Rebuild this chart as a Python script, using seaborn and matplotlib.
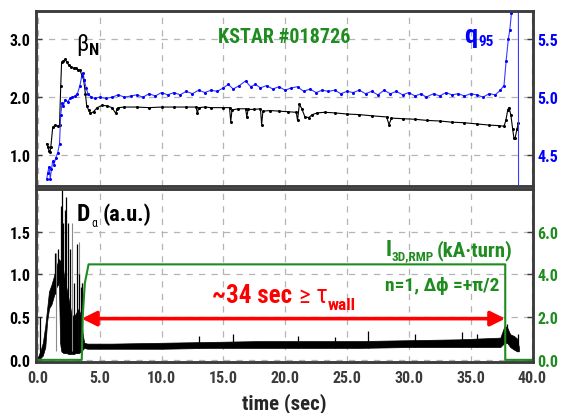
import numpy as np
import matplotlib
matplotlib.use("Agg")
import matplotlib.pyplot as plt
import seaborn as sns

# ---------------- data ----------------
# beta_N (top panel, left axis)
beta_t = [0.72, 0.8, 0.9, 0.97, 1.05, 1.2, 1.4, 1.6, 1.75, 1.85,
          1.92, 2.05, 2.2, 2.35, 2.5, 2.7, 2.9, 3.1, 3.25, 3.4,
          3.55, 3.7, 3.85, 3.95, 4.1, 4.25, 4.5, 4.8, 5.2, 5.6,
          6.0, 6.3, 6.4, 6.5, 7, 8, 9, 10, 11, 12,
          12.8, 12.9, 13.0, 13.5, 14, 15, 15.5, 15.6, 15.7, 16.2,
          16.8, 16.9, 17.0, 17.5, 18.0, 18.1, 18.2, 18.8, 19.5, 20.2,
          20.9, 21.0, 21.15, 21.35, 21.6, 21.9, 22.2, 22.6, 23.2, 24,
          25, 26, 27, 28.2, 28.4, 28.6, 29.5, 30.5, 31.5, 32.5,
          33.5, 34.5, 35.5, 36.5, 37.3, 37.7, 37.85, 38.0, 38.1, 38.25,
          38.4, 38.5, 38.6, 38.75, 38.85]
beta_v = [1.2, 1.15, 1.08, 1.05, 1.15, 1.48, 1.52, 1.5, 1.52, 2.2,
          2.6, 2.62, 2.65, 2.6, 2.55, 2.52, 2.5, 2.5, 2.47, 2.47,
          2.38, 2.3, 2.05, 1.85, 1.78, 1.72, 1.75, 1.82, 1.86, 1.85,
          1.82, 1.72, 1.8, 1.82, 1.83, 1.83, 1.82, 1.83, 1.83, 1.83,
          1.83, 1.72, 1.82, 1.83, 1.82, 1.82, 1.82, 1.58, 1.78, 1.8,
          1.8, 1.66, 1.79, 1.79, 1.8, 1.53, 1.76, 1.77, 1.76, 1.75,
          1.74, 1.6, 1.88, 1.8, 1.66, 1.65, 1.7, 1.73, 1.74, 1.73,
          1.71, 1.7, 1.68, 1.66, 1.53, 1.64, 1.63, 1.62, 1.6, 1.59,
          1.57, 1.56, 1.54, 1.52, 1.51, 1.5, 1.6, 1.78, 1.82, 1.7,
          1.45, 1.3, 1.3, 1.45, 1.55]

# q95 (top panel, right axis)
q95_t = [0.72, 0.8, 0.9, 1.0, 1.1, 1.2, 1.3, 1.45, 1.6, 1.75,
         1.85, 1.95, 2.05, 2.2, 2.4, 2.6, 2.8, 3.0, 3.2, 3.4,
         3.55, 3.65, 3.75, 3.9, 4.05, 4.3, 4.6, 5.0, 5.5, 6,
         6.5, 7, 7.5, 8, 8.5, 9, 9.5, 10, 10.5, 11,
         11.5, 12, 12.5, 13, 13.5, 14, 14.5, 15, 15.4, 15.8,
         16.3, 16.8, 17.2, 17.6, 18, 18.5, 19, 19.5, 20, 20.5,
         21, 21.5, 22, 22.5, 23, 23.5, 24, 24.5, 25, 25.5,
         26, 26.5, 27, 27.5, 28, 28.5, 29, 29.5, 30, 30.5,
         31, 31.4, 32, 32.5, 33, 33.5, 34, 34.5, 35, 35.5,
         36, 36.5, 37, 37.4, 37.7, 37.87, 38.05, 38.17, 38.3, 38.45,
         38.6, 38.86, 38.88]
q95_v = [4.3, 4.35, 4.4, 4.3, 4.38, 4.45, 4.42, 4.48, 4.52, 4.6,
         4.85, 4.95, 4.92, 4.98, 4.96, 4.99, 5.0, 5.01, 5.03, 5.1,
         5.18, 5.21, 5.15, 5.08, 5.03, 5.0, 4.99, 5.0, 4.99, 5.0,
         5.02, 5.0, 5.01, 5.02, 5.0, 5.03, 5.01, 5.04, 5.02, 5.04,
         5.02, 5.05, 5.03, 5.06, 5.04, 5.06, 5.05, 5.08, 5.11, 5.07,
         5.1, 5.14, 5.09, 5.11, 5.08, 5.1, 5.07, 5.09, 5.06, 5.08,
         5.09, 5.05, 5.07, 5.04, 5.06, 5.05, 5.06, 5.03, 5.05, 5.04,
         5.06, 5.03, 5.05, 5.02, 5.06, 5.03, 5.05, 5.02, 5.04, 5.01,
         5.03, 5.0, 5.03, 5.01, 5.04, 5.02, 5.03, 5.01, 5.03, 5.02,
         5.0, 5.03, 5.02, 5.06, 5.1, 5.31, 5.5, 5.58, 5.72, 6.0,
         6.5, 6.5, 3.5]

# D_alpha (bottom panel, left axis): noisy band envelope + spikes
dal_t = [0.0, 0.2, 0.4, 0.6, 0.75, 0.9, 1.1, 1.3, 1.5, 1.7,
         1.8, 1.9, 2.1, 2.3, 2.5, 2.7, 2.9, 3.1, 3.3, 3.5,
         3.62, 3.75, 4.0, 6, 10, 14, 18, 22, 26, 30,
         34, 37.4, 37.75, 37.95, 38.2, 38.5, 38.75, 38.9]
dal_lo = [0.0, 0.02, 0.05, 0.15, 0.45, 0.6, 0.65, 0.75, 0.85, 0.9,
          0.2, 0.1, 0.08, 0.08, 0.07, 0.07, 0.07, 0.08, 0.08, 0.1,
          0.12, 0.14, 0.13, 0.13, 0.13, 0.14, 0.14, 0.14, 0.14, 0.15,
          0.15, 0.15, 0.2, 0.2, 0.15, 0.12, 0.1, 0.1]
dal_hi = [0.03, 0.1, 0.2, 0.4, 0.6, 0.8, 0.88, 0.98, 1.1, 1.18,
          1.15, 1.2, 1.0, 0.85, 0.7, 0.55, 0.5, 0.55, 0.6, 0.5,
          0.3, 0.2, 0.19, 0.19, 0.2, 0.21, 0.22, 0.22, 0.22, 0.23,
          0.24, 0.26, 0.4, 0.38, 0.3, 0.28, 0.25, 0.15]
spike_t = [0.15, 1.35, 1.6, 1.85, 1.98, 2.05, 2.2, 2.3, 2.45, 2.6,
           2.9, 3.15, 3.3, 3.45, 3.55, 13.0, 15.8, 21.0, 24.0, 26.7,
           30.5, 34.3, 35.5, 37.95, 38.8]
spike_v = [0.5, 1.25, 1.3, 1.8, 2.05, 1.6, 1.75, 1.9, 1.6, 1.3,
           0.9, 1.35, 1.0, 0.85, 0.9, 0.28, 0.3, 0.28, 0.27, 0.34,
           0.3, 0.33, 0.3, 0.42, 0.3]
gspike_t = [1.45, 2.75, 3.3, 3.6]
gspike_v = [1.25, 1.6, 1.38, 0.9]

# I_3D,RMP coil current (bottom panel, right axis)
rmp_t = [0.0, 3.55, 3.62, 3.8, 4.1, 37.8, 37.8, 40.0]
rmp_v = [0.0, 0.0, 2.0, 3.6, 4.47, 4.47, 0.0, 0.0]

# arrow span (sec)
arrow_t = [3.55, 37.8]

xticks = [0, 5, 10, 15, 20, 25, 30, 35, 40]
xtick_labels = ["0.0", "5.0", "10.0", "15.0", "20.0", "25.0", "30.0", "35.0", "40.0"]
top_l_ticks = [1.0, 2.0, 3.0]
top_l_labels = ["1.0", "2.0", "3.0"]
top_r_ticks = [4.5, 5.0, 5.5]
top_r_labels = ["4.5", "5.0", "5.5"]
bot_l_ticks = [0.0, 0.5, 1.0, 1.5]
bot_l_labels = ["0.0", "0.5", "1.0", "1.5"]
bot_r_ticks = [0.0, 2.0, 4.0, 6.0]
bot_r_labels = ["0.0", "2.0", "4.0", "6.0"]

assert len(beta_t) == len(beta_v)
assert len(q95_t) == len(q95_v)
assert len(dal_t) == len(dal_lo) == len(dal_hi)
assert len(spike_t) == len(spike_v)

# ---------------- style ----------------
sns.set_style("white")
FAM = ["Roboto Condensed", "DejaVu Sans"]
plt.rcParams["font.family"] = FAM
plt.rcParams["font.weight"] = "bold"

BLUE = "#0000ff"
BLUE_L = "#3a3aff"
GREEN = "#1e8c1e"
RED = "#ff0000"
FRAME = "#3c3c3c"
GRID = "#b4b4b4"

fig = plt.figure(figsize=(5.61, 4.14), dpi=100)
ax1 = fig.add_axes([0.0642, 0.548, 0.886, 0.4227])
ax2 = fig.add_axes([0.0642, 0.1232, 0.886, 0.418])
ax1r = ax1.twinx()
ax2r = ax2.twinx()

XL = (-0.15, 40.05)

# ---------------- top panel ----------------
sns.lineplot(x=beta_t, y=beta_v, ax=ax1, color="black", lw=0.8, marker="o",
             markersize=2.2, markeredgewidth=0, estimator=None, sort=False,
             legend=False)
sns.lineplot(x=q95_t, y=q95_v, ax=ax1r, color=BLUE_L, lw=0.8, marker="o",
             markersize=2.2, markeredgewidth=0, markerfacecolor=BLUE,
             estimator=None, sort=False, legend=False)
ax1.set_xlim(*XL)
ax1.set_ylim(0.47, 3.48)
ax1r.set_ylim(4.235, 5.74)

# ---------------- bottom panel ----------------
ax2.fill_between(dal_t, dal_lo, dal_hi, color="black", lw=0.5)
ax2.vlines(gspike_t, 0.1, gspike_v, color="#8a8a8a", lw=0.8)
ax2.vlines(spike_t, [np.interp(s, dal_t, dal_lo) for s in spike_t], spike_v,
           color="black", lw=0.9)
sns.lineplot(x=rmp_t, y=rmp_v, ax=ax2r, color=GREEN, lw=1.5,
             estimator=None, sort=False, legend=False)
ax2.set_xlim(*XL)
ax2.set_ylim(-0.025, 2.0)
ax2r.set_ylim(-0.1, 8.0)

# ---------------- axes cosmetics ----------------
for ax in (ax1, ax2):
    ax.set_xticks(xticks)
    ax.grid(True, ls=(0, (5, 5)), color=GRID, lw=0.9)
    ax.set_axisbelow(True)
ax1.set_xticklabels([])
ax2.set_xticklabels(xtick_labels)

ax1.set_yticks(top_l_ticks, top_l_labels)
ax1r.set_yticks(top_r_ticks, top_r_labels)
ax2.set_yticks(bot_l_ticks, bot_l_labels)
ax2r.set_yticks(bot_r_ticks, bot_r_labels)

for ax in (ax1, ax2, ax1r, ax2r):
    for sp in ax.spines.values():
        sp.set_color(FRAME)
        sp.set_linewidth(1.8)
    ax.tick_params(direction="in", length=4, width=1, colors=FRAME,
                   labelsize=11.5, pad=4)
ax2.tick_params(axis="x", pad=6)
ax1.tick_params(axis="y", labelcolor="black")
ax2.tick_params(axis="y", labelcolor="black")
ax1r.tick_params(axis="y", labelcolor=BLUE, pad=3)
ax2r.tick_params(axis="y", labelcolor=GREEN, pad=3)
for lab in (ax1.get_yticklabels() + ax1r.get_yticklabels() + ax2.get_xticklabels()
            + ax2.get_yticklabels() + ax2r.get_yticklabels()):
    lab.set_fontweight("bold")

ax2.set_xlabel("time (sec)", fontsize=15, fontweight="bold", labelpad=5)
for ax in (ax1, ax2, ax1r, ax2r):
    ax.set_ylabel("")


def follow(ax, prev, s, dx=0.5, dy=0.0, ybase=None, **kw):
    """Place text s right after text artist prev (offset in points)."""
    yref = prev if ybase is None else ybase
    return ax.annotate(s, xy=(1.0, 0.0), xycoords=(prev, yref),
                       xytext=(dx, dy), textcoords="offset points",
                       ha="left", va="bottom", **kw)


# ---------------- annotations ----------------
t_beta = ax1.text(3.08, 2.81, "β", fontsize=17, fontweight="normal",
                  color="black", ha="left", va="baseline")
follow(ax1, t_beta, "N", dx=0.5, dy=-1.5, fontsize=12, fontweight="bold",
       color="black")
ax1.text(19.9, 2.95, "KSTAR #018726", fontsize=14.5, fontweight="bold",
         color=GREEN, ha="center", va="baseline")
t_q = ax1.text(34.5, 2.95, "q", fontsize=19, fontweight="bold", color=BLUE,
               ha="left", va="baseline")
follow(ax1, t_q, "95", dx=0.5, dy=-0.5, fontsize=11, fontweight="bold",
       color=BLUE)

# bottom (right-axis units)
t_D = ax2r.text(3.16, 6.54, "D", fontsize=17, fontweight="bold", color="black",
                ha="left", va="baseline")
t_al = follow(ax2r, t_D, "α", dx=0.8, dy=-2.5, fontsize=8.5,
              fontweight="normal", color="black")
follow(ax2r, t_al, "(a.u.)", dx=3.5, ybase=t_D, fontsize=16,
       fontweight="bold", color="black")

t_I = ax2r.text(28.1, 4.89, "I", fontsize=16, fontweight="bold", color=GREEN,
                ha="left", va="baseline")
t_sub = follow(ax2r, t_I, "3D,RMP", dx=0.3, dy=-1.5, fontsize=9.5,
               fontweight="bold", color=GREEN)
follow(ax2r, t_sub, "(kA·turn)", dx=2.0, ybase=t_I, fontsize=15,
       fontweight="bold", color=GREEN)
ax2r.text(28.1, 3.29, "n=1, Δϕ =+π/2", fontsize=14, fontweight="bold",
          color=GREEN, ha="left", va="baseline")

ax2r.annotate("", xy=(arrow_t[0], 1.93), xytext=(arrow_t[1], 1.93),
              arrowprops=dict(arrowstyle="<|-|>", color=RED, lw=2.6,
                              mutation_scale=22, shrinkA=0, shrinkB=0))
t_34 = ax2r.text(14.1, 2.73, "~34 sec", fontsize=18, fontweight="bold",
                 color=RED, ha="left", va="baseline")
t_ge = follow(ax2r, t_34, "≥ τ", dx=4.5, fontsize=18, fontweight="normal",
              color=RED)
follow(ax2r, t_ge, "wall", dx=0.3, dy=-4.0, ybase=t_34, fontsize=12.5,
       fontweight="bold", color=RED)

fig.savefig("out.png", dpi=100)
